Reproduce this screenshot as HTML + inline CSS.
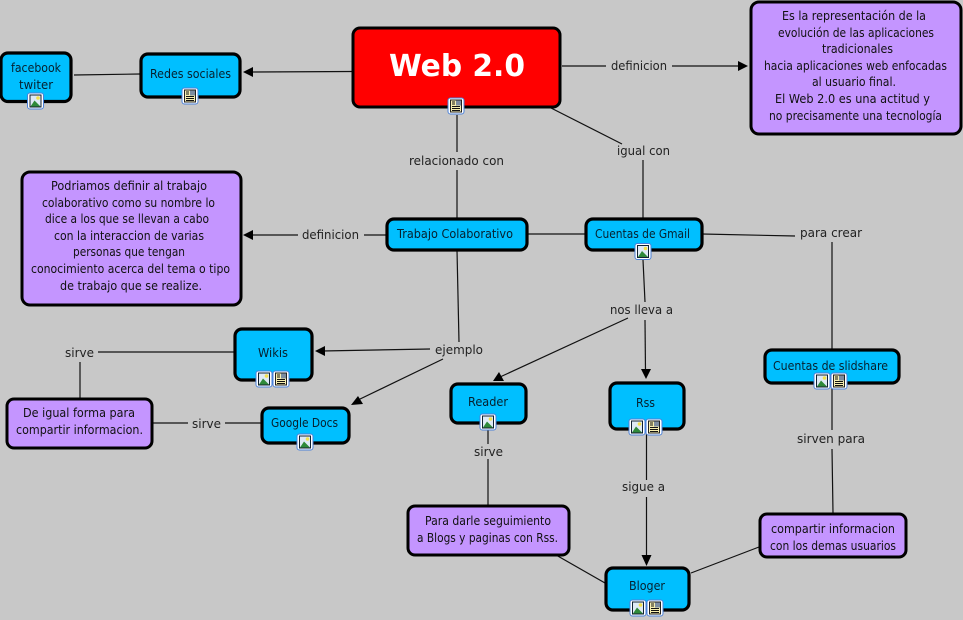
<!DOCTYPE html>
<html><head><meta charset="utf-8"><style>
html,body{margin:0;padding:0;background:#c8c8c8;width:963px;height:620px;overflow:hidden}
svg{display:block}
.n{fill:#00BFFF;stroke:#000;stroke-width:3.2}
.p{fill:#C495FF;stroke:#000;stroke-width:3}
.l{stroke:#111;stroke-width:1.2;fill:none}
text{font-family:"Comic Sans MS","DejaVu Sans",sans-serif;font-size:12px;fill:#06202e}
.d text{fill:#111}
.k text{font-family:"DejaVu Sans","Liberation Sans",sans-serif;font-size:12.5px;fill:#222}
</style></head><body>
<svg width="963" height="620" viewBox="0 0 963 620" xmlns="http://www.w3.org/2000/svg">
<defs>
<g id="i"><rect x="-8" y="-8" width="16" height="16" rx="2.5" fill="#fff" stroke="#4a80d8" stroke-width="1"/><rect x="-5.5" y="-6" width="11" height="12" fill="#dfeaf5" stroke="#123" stroke-width="1"/><circle cx="2.5" cy="-3" r="1.8" fill="#f4e04d"/><path d="M-5 5.5 L-1 -0.5 L5 5.5Z" fill="#2f8a3a"/></g>
<g id="t"><rect x="-8" y="-8" width="16" height="16" rx="2.5" fill="#fff" stroke="#4a80d8" stroke-width="1"/><rect x="-5.5" y="-6" width="11" height="12" fill="#f7efb0" stroke="#222" stroke-width="1"/><rect x="0" y="-5.5" width="5" height="5" fill="#7c8ca0"/><path d="M-4 -4H-1M-4 -2H-1M-4 0.5H4M-4 2.5H4M-4 4.5H4" stroke="#111" stroke-width="1" fill="none"/></g>
</defs>
<rect width="963" height="620" fill="#c8c8c8"/>
<g class="l">
<path d="M74 75L140 74"/><path d="M352 71.5L250 72"/>
<path d="M562 66H606M672 66H742"/>
<path d="M457 115V152M457 170V218"/>
<path d="M551 108L622 144M643 160V218"/>
<path d="M527 234H585"/>
<path d="M386 235H364M298 235H250"/>
<path d="M457 250L459 342"/>
<path d="M430 349L322 351"/>
<path d="M443 359L358 400"/>
<path d="M643 260L645 302"/>
<path d="M628 318L500 377"/>
<path d="M645 320L645.500 372"/>
<path d="M702 234L795 236M832 242V349"/>
<path d="M832 383V430M832 449L833 513"/>
<path d="M759 547L691 573"/>
<path d="M556 555L605 583"/>
<path d="M646.500 429V480M646.500 497V558"/>
<path d="M488 430V444M488 459V505"/>
<path d="M234 352H98M80 362V398"/>
<path d="M152 423H188M225 423H261"/>
</g>
<g fill="#000">
<path d="M243 72L253 67V77Z"/>
<path d="M748 66L738 61V71Z"/>
<path d="M243 235L253 230V240Z"/>
<path d="M315 351L325 346V356Z"/>
<path d="M351 405L358 396L363 404Z"/>
<path d="M493 381L499 372L504 381Z"/>
<path d="M646 379L641 369H651Z"/>
<path d="M646.500 566L641.500 555H651.500Z"/>
</g>
<rect class="n" x="1" y="53" width="70" height="48.500" rx="7"/>
<rect class="n" x="141" y="54" width="99" height="43" rx="7"/>
<rect x="353" y="28" width="207" height="79" rx="7" fill="#FF0000" stroke="#000" stroke-width="3"/>
<rect class="p" x="751" y="2" width="210" height="132" rx="8"/>
<rect class="p" x="22" y="172" width="219" height="133" rx="8"/>
<rect class="n" x="387" y="219" width="140" height="31" rx="7"/>
<rect class="n" x="586" y="219" width="116" height="31" rx="7"/>
<rect class="n" x="235" y="329" width="77" height="51" rx="7"/>
<rect class="n" x="262" y="408" width="87" height="35" rx="7"/>
<rect class="p" x="7" y="399" width="145" height="49" rx="7"/>
<rect class="n" x="451" y="384" width="75" height="39" rx="7"/>
<rect class="n" x="610" y="383" width="74" height="46" rx="7"/>
<rect class="n" x="765" y="350" width="134" height="33" rx="7"/>
<rect class="p" x="408" y="506" width="161" height="49" rx="7"/>
<rect class="p" x="760" y="514" width="146" height="43" rx="7"/>
<rect class="n" x="606" y="568" width="83" height="42" rx="7"/>
<use href="#i" x="35.500" y="101"/><use href="#t" x="190" y="96"/><use href="#t" x="456" y="106"/>
<use href="#i" x="643" y="251.500"/><use href="#i" x="264" y="379"/><use href="#t" x="281" y="379"/>
<use href="#i" x="305" y="442"/><use href="#i" x="488" y="422"/><use href="#i" x="637" y="427"/><use href="#t" x="654" y="427"/>
<use href="#i" x="822" y="381"/><use href="#t" x="839" y="381"/><use href="#i" x="638" y="608"/><use href="#t" x="655" y="608"/>
<text x="389" y="76" textLength="136" lengthAdjust="spacingAndGlyphs" style="font-size:30px;font-weight:bold;fill:#fff">Web 2.0</text>
<g>
<text x="11" y="72" textLength="50" lengthAdjust="spacingAndGlyphs">facebook</text>
<text x="19" y="89" textLength="34" lengthAdjust="spacingAndGlyphs">twiter</text>
<text x="150" y="78" textLength="81" lengthAdjust="spacingAndGlyphs">Redes sociales</text>
<text x="397" y="238" textLength="116" lengthAdjust="spacingAndGlyphs">Trabajo Colaborativo</text>
<text x="595" y="238" textLength="95" lengthAdjust="spacingAndGlyphs">Cuentas de Gmail</text>
<text x="258" y="357" textLength="30" lengthAdjust="spacingAndGlyphs">Wikis</text>
<text x="271" y="427" textLength="67" lengthAdjust="spacingAndGlyphs">Google Docs</text>
<text x="468" y="406" textLength="40" lengthAdjust="spacingAndGlyphs">Reader</text>
<text x="636" y="407" textLength="19" lengthAdjust="spacingAndGlyphs">Rss</text>
<text x="773" y="370" textLength="115" lengthAdjust="spacingAndGlyphs">Cuentas de slidshare</text>
<text x="629" y="590" textLength="36" lengthAdjust="spacingAndGlyphs">Bloger</text>
</g>
<g class="d">
<text x="782" y="20" textLength="144" lengthAdjust="spacingAndGlyphs">Es la representación de la</text>
<text x="778" y="37" textLength="156" lengthAdjust="spacingAndGlyphs">evolución de las aplicaciones</text>
<text x="822" y="53" textLength="71" lengthAdjust="spacingAndGlyphs">tradicionales</text>
<text x="764" y="70" textLength="183" lengthAdjust="spacingAndGlyphs">hacia aplicaciones web enfocadas</text>
<text x="812" y="86" textLength="84" lengthAdjust="spacingAndGlyphs">al usuario final.</text>
<text x="775" y="103" textLength="155" lengthAdjust="spacingAndGlyphs">El Web 2.0 es una actitud y</text>
<text x="769" y="120" textLength="173" lengthAdjust="spacingAndGlyphs">no precisamente una tecnología</text>
<text x="51" y="190" textLength="156" lengthAdjust="spacingAndGlyphs">Podriamos definir al trabajo</text>
<text x="42" y="207" textLength="173" lengthAdjust="spacingAndGlyphs">colaborativo como su nombre lo</text>
<text x="45" y="223" textLength="164" lengthAdjust="spacingAndGlyphs">dice a los que se llevan a cabo</text>
<text x="54" y="240" textLength="150" lengthAdjust="spacingAndGlyphs">con la interaccion de varias</text>
<text x="73" y="256" textLength="112" lengthAdjust="spacingAndGlyphs">personas que tengan</text>
<text x="31" y="273" textLength="199" lengthAdjust="spacingAndGlyphs">conocimiento acerca del tema o tipo</text>
<text x="60" y="290" textLength="142" lengthAdjust="spacingAndGlyphs">de trabajo que se realize.</text>
<text x="23" y="417" textLength="112" lengthAdjust="spacingAndGlyphs">De igual forma para</text>
<text x="16" y="434" textLength="127" lengthAdjust="spacingAndGlyphs">compartir informacion.</text>
<text x="425" y="525" textLength="126" lengthAdjust="spacingAndGlyphs">Para darle seguimiento</text>
<text x="417" y="542" textLength="141" lengthAdjust="spacingAndGlyphs">a Blogs y paginas con Rss.</text>
<text x="771" y="533" textLength="124" lengthAdjust="spacingAndGlyphs">compartir informacion</text>
<text x="770" y="550" textLength="126" lengthAdjust="spacingAndGlyphs">con los demas usuarios</text>
</g>
<g class="k">
<text x="611" y="70" textLength="56" lengthAdjust="spacingAndGlyphs">definicion</text>
<text x="409" y="165" textLength="95" lengthAdjust="spacingAndGlyphs">relacionado con</text>
<text x="617" y="155" textLength="53" lengthAdjust="spacingAndGlyphs">igual con</text>
<text x="302" y="239" textLength="57" lengthAdjust="spacingAndGlyphs">definicion</text>
<text x="800" y="237" textLength="62" lengthAdjust="spacingAndGlyphs">para crear</text>
<text x="610" y="314" textLength="63" lengthAdjust="spacingAndGlyphs">nos lleva a</text>
<text x="435" y="354" textLength="48" lengthAdjust="spacingAndGlyphs">ejemplo</text>
<text x="65" y="357" textLength="29" lengthAdjust="spacingAndGlyphs">sirve</text>
<text x="192" y="428" textLength="29" lengthAdjust="spacingAndGlyphs">sirve</text>
<text x="474" y="456" textLength="29" lengthAdjust="spacingAndGlyphs">sirve</text>
<text x="622" y="491" textLength="43" lengthAdjust="spacingAndGlyphs">sigue a</text>
<text x="797" y="443" textLength="68" lengthAdjust="spacingAndGlyphs">sirven para</text>
</g>
</svg>
</body></html>
